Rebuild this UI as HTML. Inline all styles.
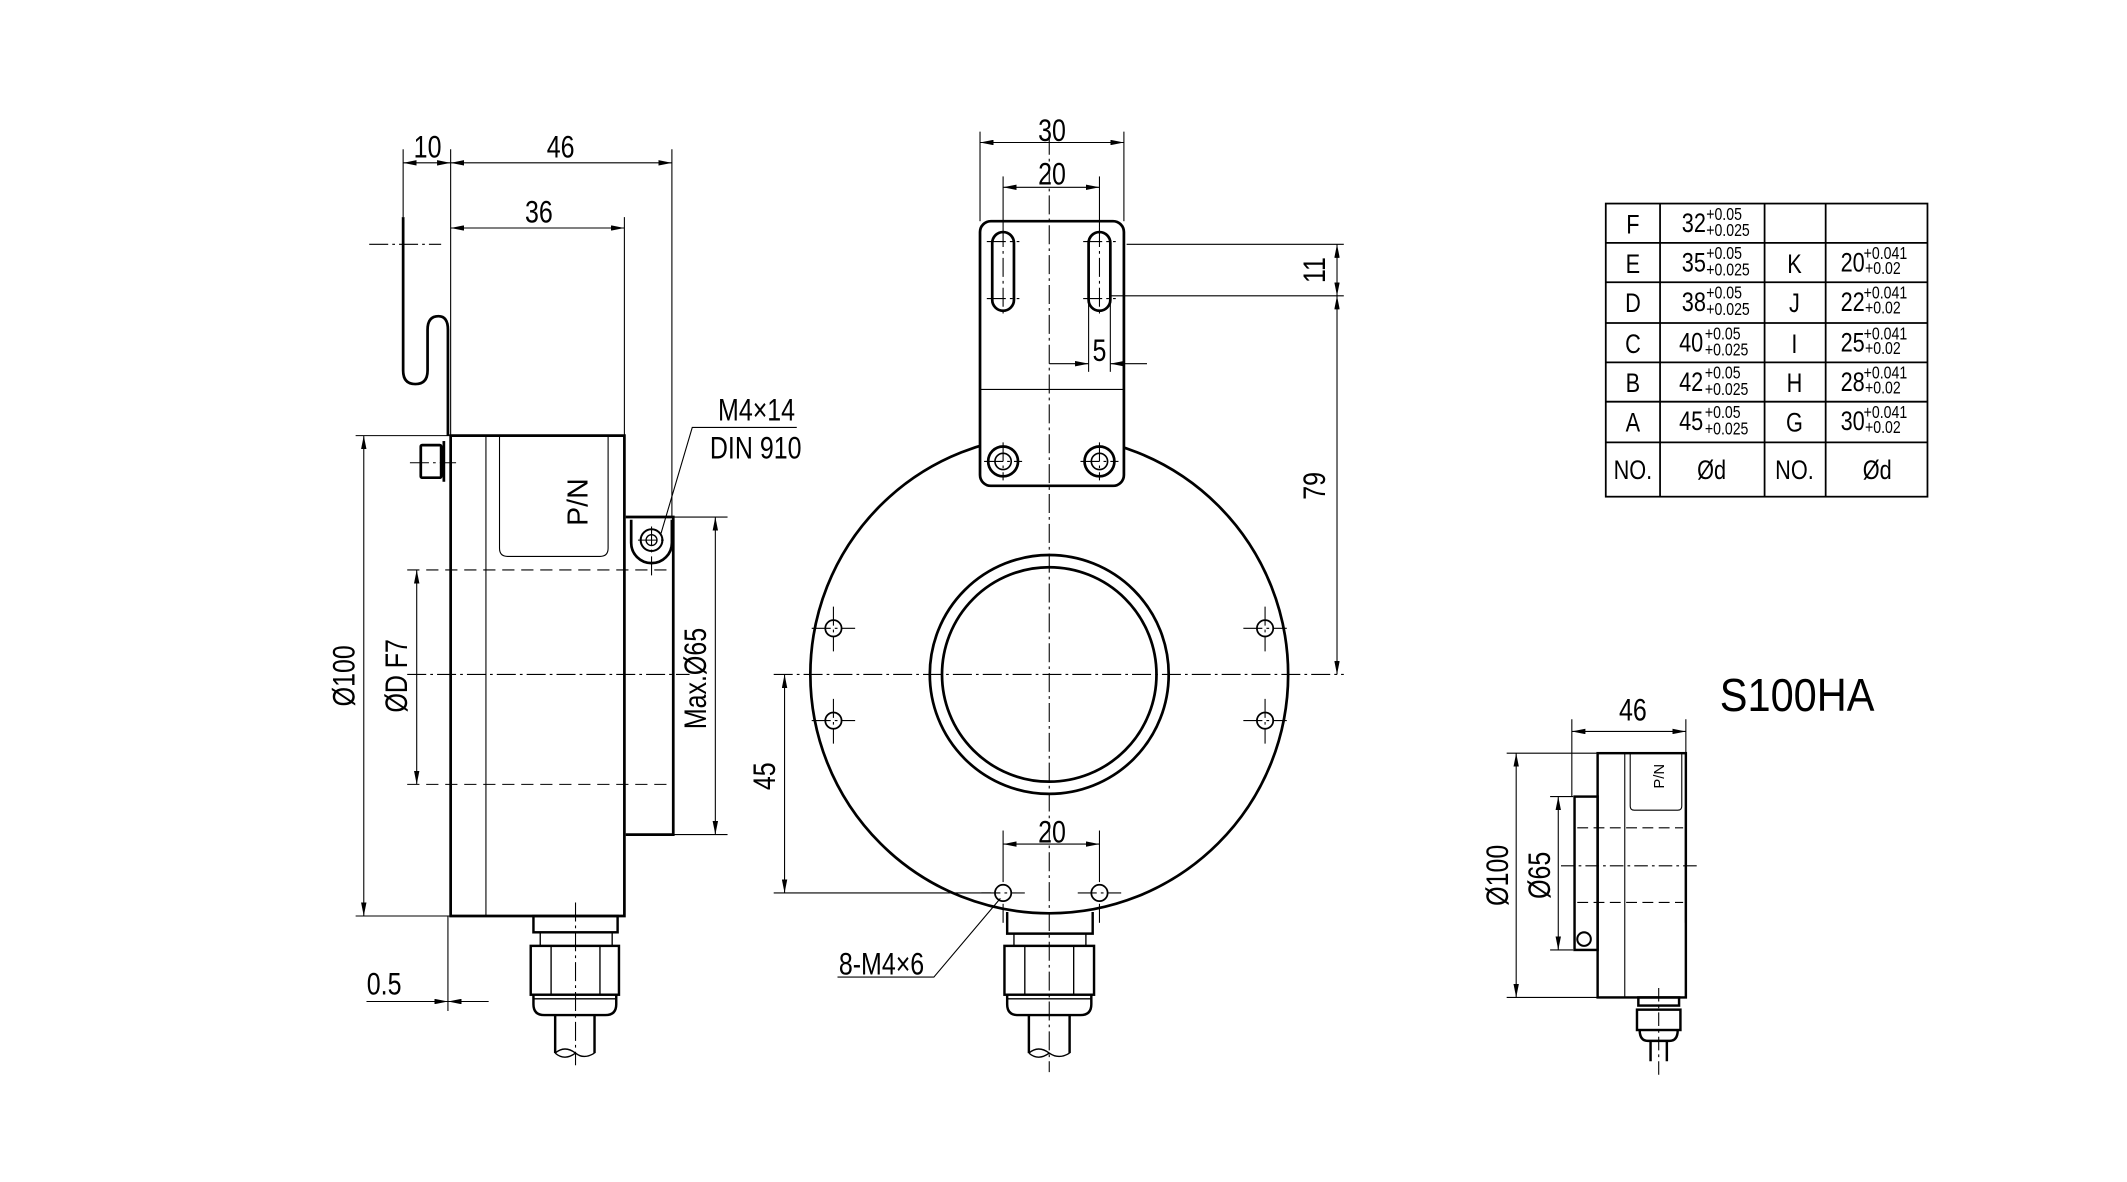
<!DOCTYPE html>
<html><head><meta charset="utf-8"><style>
html,body{margin:0;padding:0;background:#fff;}
svg{display:block;}
text{font-family:"Liberation Sans Narrow","Liberation Sans",sans-serif;fill:#000;}
</style></head><body>
<svg width="2127" height="1182" viewBox="0 0 1567 871" preserveAspectRatio="none" xmlns="http://www.w3.org/2000/svg">
<defs>
<marker id="a" viewBox="0 0 10 4" refX="10" refY="2" markerWidth="10" markerHeight="4" orient="auto-start-reverse" markerUnits="userSpaceOnUse"><path d="M0,0 L10,2 L0,4z" fill="#000"/></marker>
</defs>
<rect width="1567" height="871" fill="#fff"/>
<g fill="none" stroke="#000">
<!-- ===== LEFT VIEW ===== -->
<g stroke-width="0.8">
<line x1="297" y1="110" x2="297" y2="160"/>
<line x1="332" y1="110" x2="332" y2="321"/>
<line x1="495" y1="110" x2="495" y2="381"/>
<line x1="460" y1="160" x2="460" y2="321"/>
<line x1="297" y1="120" x2="332" y2="120" marker-start="url(#a)" marker-end="url(#a)"/>
<line x1="332" y1="120" x2="495" y2="120" marker-start="url(#a)" marker-end="url(#a)"/>
<line x1="332" y1="168" x2="460" y2="168" marker-start="url(#a)" marker-end="url(#a)"/>
<line x1="262" y1="321" x2="332" y2="321"/>
<line x1="262" y1="675" x2="332" y2="675"/>
<line x1="268" y1="321" x2="268" y2="675" marker-start="url(#a)" marker-end="url(#a)"/>
<line x1="307" y1="420" x2="307" y2="578" marker-start="url(#a)" marker-end="url(#a)"/>
<line x1="496" y1="381" x2="536" y2="381"/>
<line x1="496" y1="615" x2="536" y2="615"/>
<line x1="527" y1="381" x2="527" y2="615" marker-start="url(#a)" marker-end="url(#a)"/>
<line x1="330" y1="675" x2="330" y2="745"/>
<line x1="270" y1="738" x2="330" y2="738" marker-end="url(#a)"/>
<line x1="360" y1="738" x2="330" y2="738" marker-end="url(#a)"/>
<line x1="358" y1="321" x2="358" y2="675"/>
<path d="M368,321 V404 Q368,410 374,410 H442 Q448,410 448,404 V321"/>
<path d="M487,393 L510,315 H587"/>
</g>
<g stroke-width="0.8" stroke-dasharray="14,3,2,3">
<line x1="272" y1="180" x2="325" y2="180"/>
<line x1="300" y1="497" x2="508" y2="497"/>
<line x1="424" y1="665" x2="424" y2="785"/>
<line x1="302" y1="341" x2="336" y2="341"/>
<line x1="470" y1="398" x2="492" y2="398"/>
<line x1="480" y1="388" x2="480" y2="425"/>
</g>
<g stroke-width="0.8" stroke-dasharray="9,5">
<line x1="300" y1="420" x2="496" y2="420"/>
<line x1="300" y1="578" x2="496" y2="578"/>
</g>
<g stroke-width="2">
<path d="M297,160 V273 Q297,283 306,283 Q315,283 315,273 V243 Q315,233 323,233 Q330,233 330,243 V321"/>
<path d="M332,321 H460 V675 H332 Z"/>
<path d="M461,381 H496 V615 H461"/>
<path d="M465,383 V400 A15,15 0 0 0 495,400 V383"/>
<rect x="310" y="328" width="15" height="24" rx="1"/>
<line x1="327" y1="325" x2="327" y2="355"/>
</g>
<circle cx="480" cy="398" r="8" stroke-width="1.5"/>
<circle cx="480" cy="398" r="4" stroke-width="1"/>
<!-- left gland -->
<g stroke-width="1.8">
<rect x="393" y="675" width="62" height="12"/>
<rect x="391" y="697" width="65" height="36"/>
<path d="M393,733 V740 Q393,748 401,748 H446 Q454,748 454,740 V733"/>
<path d="M409,748 V776 M438,748 V776"/>
</g>
<g stroke-width="1">
<path d="M398,687 V697 M451,687 V697 M406,697 V733 M442,697 V733 M393,736 H454"/>
<path d="M409,776 Q416,770 424,776 Q430,781 438,776 M409,776 Q416,782 424,776"/>
</g>
<!-- ===== CENTER VIEW ===== -->
<circle cx="773" cy="497" r="176" stroke-width="2"/>
<circle cx="773" cy="497" r="88" stroke-width="2"/>
<circle cx="773" cy="497" r="79" stroke-width="2"/>
<rect x="722" y="163" width="106" height="195" rx="8" fill="#fff" stroke-width="2"/>
<line x1="722" y1="287" x2="828" y2="287" stroke-width="0.8"/>
<rect x="731" y="171" width="16" height="58" rx="8" stroke-width="2"/>
<rect x="802" y="171" width="16" height="58" rx="8" stroke-width="2"/>
<circle cx="739" cy="340" r="11" stroke-width="2"/><circle cx="739" cy="340" r="6" stroke-width="1.2"/>
<circle cx="810" cy="340" r="11" stroke-width="2"/><circle cx="810" cy="340" r="6" stroke-width="1.2"/>
<g stroke-width="1.3">
<circle cx="614" cy="463" r="6"/><circle cx="614" cy="531" r="6"/>
<circle cx="932" cy="463" r="6"/><circle cx="932" cy="531" r="6"/>
<circle cx="739" cy="658" r="6"/><circle cx="810" cy="658" r="6"/>
</g>
<g stroke-width="0.8" stroke-dasharray="14,3,2,3">
<line x1="773" y1="100" x2="773" y2="790"/>
<line x1="570" y1="497" x2="990" y2="497"/>
<line x1="598" y1="463" x2="630" y2="463"/><line x1="614" y1="447" x2="614" y2="480"/>
<line x1="598" y1="531" x2="630" y2="531"/><line x1="614" y1="515" x2="614" y2="548"/>
<line x1="916" y1="463" x2="948" y2="463"/><line x1="932" y1="447" x2="932" y2="480"/>
<line x1="916" y1="531" x2="948" y2="531"/><line x1="932" y1="515" x2="932" y2="548"/>
<line x1="723" y1="658" x2="755" y2="658"/><line x1="794" y1="658" x2="826" y2="658"/>
<line x1="725" y1="340" x2="753" y2="340"/><line x1="796" y1="340" x2="824" y2="340"/>
<line x1="727" y1="178" x2="751" y2="178"/><line x1="727" y1="220" x2="751" y2="220"/>
<line x1="798" y1="178" x2="822" y2="178"/><line x1="798" y1="220" x2="822" y2="220"/>
<line x1="739" y1="168" x2="739" y2="232"/><line x1="810" y1="168" x2="810" y2="232"/>
<line x1="739" y1="326" x2="739" y2="354"/><line x1="810" y1="326" x2="810" y2="354"/>
</g>
<g stroke-width="0.8">
<line x1="722" y1="97" x2="722" y2="163"/><line x1="828" y1="97" x2="828" y2="163"/>
<line x1="722" y1="105" x2="828" y2="105" marker-start="url(#a)" marker-end="url(#a)"/>
<line x1="739" y1="130" x2="739" y2="168"/><line x1="810" y1="130" x2="810" y2="168"/>
<line x1="739" y1="138" x2="810" y2="138" marker-start="url(#a)" marker-end="url(#a)"/>
<line x1="830" y1="180" x2="990" y2="180"/><line x1="818" y1="218" x2="990" y2="218"/>
<line x1="985" y1="180" x2="985" y2="218" marker-start="url(#a)" marker-end="url(#a)"/>
<line x1="985" y1="218" x2="985" y2="497" marker-start="url(#a)" marker-end="url(#a)"/>
<line x1="802" y1="222" x2="802" y2="274"/><line x1="818" y1="222" x2="818" y2="274"/>
<line x1="773" y1="268" x2="802" y2="268" marker-end="url(#a)"/>
<line x1="845" y1="268" x2="818" y2="268" marker-end="url(#a)"/>
<line x1="570" y1="658" x2="730" y2="658"/>
<line x1="578" y1="497" x2="578" y2="658" marker-start="url(#a)" marker-end="url(#a)"/>
<line x1="739" y1="612" x2="739" y2="650"/><line x1="810" y1="612" x2="810" y2="650"/>
<line x1="739" y1="622" x2="810" y2="622" marker-start="url(#a)" marker-end="url(#a)"/>
<path d="M617,720 H688 L737,662"/>
<line x1="810" y1="666" x2="810" y2="680"/><line x1="739" y1="666" x2="739" y2="680"/>
</g>
<!-- center gland -->
<g stroke-width="1.8">
<path d="M742,672 V688 H805 V672"/>
<rect x="740" y="697" width="66" height="36"/>
<path d="M742,733 V740 Q742,748 750,748 H796 Q804,748 804,740 V733"/>
<path d="M758,748 V776 M788,748 V776"/>
</g>
<g stroke-width="1">
<path d="M747,688 V697 M800,688 V697 M755,697 V733 M791,697 V733 M742,736 H804"/>
<path d="M758,776 Q765,770 773,776 Q780,781 788,776 M758,776 Q765,782 773,776"/>
</g>
<!-- ===== TABLE ===== -->
<g stroke-width="1.3">
<rect x="1183" y="150" width="237" height="216"/>
<line x1="1223" y1="150" x2="1223" y2="366"/>
<line x1="1300" y1="150" x2="1300" y2="366"/>
<line x1="1345" y1="150" x2="1345" y2="366"/>
<line x1="1183" y1="179" x2="1420" y2="179"/>
<line x1="1183" y1="208" x2="1420" y2="208"/>
<line x1="1183" y1="238" x2="1420" y2="238"/>
<line x1="1183" y1="267" x2="1420" y2="267"/>
<line x1="1183" y1="296" x2="1420" y2="296"/>
<line x1="1183" y1="326" x2="1420" y2="326"/>
</g>
<!-- ===== SMALL VIEW ===== -->
<g stroke-width="0.8">
<line x1="1158" y1="530" x2="1158" y2="587"/><line x1="1242" y1="530" x2="1242" y2="555"/>
<line x1="1158" y1="539" x2="1242" y2="539" marker-start="url(#a)" marker-end="url(#a)"/>
<line x1="1110" y1="555" x2="1177" y2="555"/><line x1="1110" y1="735" x2="1177" y2="735"/>
<line x1="1117" y1="555" x2="1117" y2="735" marker-start="url(#a)" marker-end="url(#a)"/>
<line x1="1142" y1="587" x2="1159" y2="587"/><line x1="1142" y1="700" x2="1159" y2="700"/>
<line x1="1148" y1="587" x2="1148" y2="700" marker-start="url(#a)" marker-end="url(#a)"/>
<line x1="1197" y1="555" x2="1197" y2="735"/>
<path d="M1201,555 V594 Q1201,597 1204,597 H1236 Q1239,597 1239,594 V555"/>
</g>
<g stroke-width="0.8" stroke-dasharray="8,4">
<line x1="1162" y1="610" x2="1240" y2="610"/><line x1="1162" y1="665" x2="1240" y2="665"/>
</g>
<g stroke-width="0.8" stroke-dasharray="10,3,2,3">
<line x1="1150" y1="638" x2="1252" y2="638"/>
<line x1="1222" y1="728" x2="1222" y2="792"/>
</g>
<g stroke-width="1.8">
<rect x="1177" y="555" width="65" height="180"/>
<rect x="1160" y="587" width="17" height="113"/>
<rect x="1207" y="735" width="30" height="6"/>
<rect x="1206" y="744" width="32" height="15"/>
<path d="M1208,759 Q1208,767 1214,767 H1230 Q1236,767 1236,759"/>
<path d="M1216,767 V782 M1228,767 V782"/>
</g>
<circle cx="1167" cy="692" r="5" stroke-width="1.5"/>
<line x1="1242" y1="595" x2="1242" y2="680" stroke-width="1.5"/>
</g>
<!-- ===== TEXT ===== -->
<g font-size="23" text-anchor="middle">
<text transform="translate(315,116) scale(0.8,1)">10</text>
<text transform="translate(413,116) scale(0.8,1)">46</text>
<text transform="translate(397,164) scale(0.8,1)">36</text>
<text transform="translate(775,104) scale(0.8,1)">30</text>
<text transform="translate(775,136) scale(0.8,1)">20</text>
<text transform="translate(810,266) scale(0.8,1)">5</text>
<text transform="translate(775,621) scale(0.8,1)">20</text>
<text transform="translate(1203,531) scale(0.8,1)">46</text>
<text transform="translate(283,733) scale(0.8,1)">0.5</text>
<text transform="translate(261,498) rotate(-90) scale(0.8,1)">Ø100</text>
<text transform="translate(300,498) rotate(-90) scale(0.8,1)">ØD F7</text>
<text transform="translate(520,500) rotate(-90) scale(0.8,1)">Max.Ø65</text>
<text transform="translate(976,199) rotate(-90) scale(0.8,1)">11</text>
<text transform="translate(976,358) rotate(-90) scale(0.8,1)">79</text>
<text transform="translate(571,572) rotate(-90) scale(0.8,1)">45</text>
<text transform="translate(1111,645) rotate(-90) scale(0.8,1)">Ø100</text>
<text transform="translate(1142,645) rotate(-90) scale(0.8,1)">Ø65</text>
<text transform="translate(433,370) rotate(-90)" font-family="Liberation Sans" font-size="21">P/N</text>
<text transform="translate(1226,572) rotate(-90)" font-family="Liberation Sans" font-size="11">P/N</text>
</g>
<g font-size="23">
<text transform="translate(529,310) scale(0.8,1)">M4×14</text>
<text transform="translate(523,338) scale(0.8,1)">DIN 910</text>
<text transform="translate(618,718) scale(0.8,1)">8-M4×6</text>
</g>
<text transform="translate(1267,524) scale(0.9,1)" font-family="Liberation Sans" font-size="34">S100HA</text>
<g font-size="20" text-anchor="middle">
<text transform="translate(1203,172) scale(0.8,1)">F</text><text transform="translate(1203,201) scale(0.8,1)">E</text><text transform="translate(1203,230) scale(0.8,1)">D</text>
<text transform="translate(1203,260) scale(0.8,1)">C</text><text transform="translate(1203,289) scale(0.8,1)">B</text><text transform="translate(1203,318) scale(0.8,1)">A</text>
<text transform="translate(1322,201) scale(0.8,1)">K</text><text transform="translate(1322,230) scale(0.8,1)">J</text><text transform="translate(1322,260) scale(0.8,1)">I</text>
<text transform="translate(1322,289) scale(0.8,1)">H</text><text transform="translate(1322,318) scale(0.8,1)">G</text>
<text transform="translate(1203,353) scale(0.8,1)">NO.</text><text transform="translate(1261,353) scale(0.8,1)">Ød</text>
<text transform="translate(1322,353) scale(0.8,1)">NO.</text><text transform="translate(1383,353) scale(0.8,1)">Ød</text>
</g>
<g font-size="20">
<text transform="translate(1239,171) scale(0.8,1)">32</text><text transform="translate(1239,200) scale(0.8,1)">35</text><text transform="translate(1239,229) scale(0.8,1)">38</text>
<text transform="translate(1237,259) scale(0.8,1)">40</text><text transform="translate(1237,288) scale(0.8,1)">42</text><text transform="translate(1237,317) scale(0.8,1)">45</text>
<text transform="translate(1356,200) scale(0.8,1)">20</text><text transform="translate(1356,229) scale(0.8,1)">22</text><text transform="translate(1356,259) scale(0.8,1)">25</text>
<text transform="translate(1356,288) scale(0.8,1)">28</text><text transform="translate(1356,317) scale(0.8,1)">30</text>
</g>
<g font-size="13">
<text transform="translate(1257,162) scale(0.8,1)">+0.05</text><text transform="translate(1257,174) scale(0.8,1)">+0.025</text>
<text transform="translate(1257,191) scale(0.8,1)">+0.05</text><text transform="translate(1257,203) scale(0.8,1)">+0.025</text>
<text transform="translate(1257,220) scale(0.8,1)">+0.05</text><text transform="translate(1257,232) scale(0.8,1)">+0.025</text>
<text transform="translate(1256,250) scale(0.8,1)">+0.05</text><text transform="translate(1256,262) scale(0.8,1)">+0.025</text>
<text transform="translate(1256,279) scale(0.8,1)">+0.05</text><text transform="translate(1256,291) scale(0.8,1)">+0.025</text>
<text transform="translate(1256,308) scale(0.8,1)">+0.05</text><text transform="translate(1256,320) scale(0.8,1)">+0.025</text>
<text transform="translate(1373,191) scale(0.8,1)">+0.041</text><text transform="translate(1374,202) scale(0.8,1)">+0.02</text>
<text transform="translate(1373,220) scale(0.8,1)">+0.041</text><text transform="translate(1374,231) scale(0.8,1)">+0.02</text>
<text transform="translate(1373,250) scale(0.8,1)">+0.041</text><text transform="translate(1374,261) scale(0.8,1)">+0.02</text>
<text transform="translate(1373,279) scale(0.8,1)">+0.041</text><text transform="translate(1374,290) scale(0.8,1)">+0.02</text>
<text transform="translate(1373,308) scale(0.8,1)">+0.041</text><text transform="translate(1374,319) scale(0.8,1)">+0.02</text>
</g>
</svg>
</body></html>
